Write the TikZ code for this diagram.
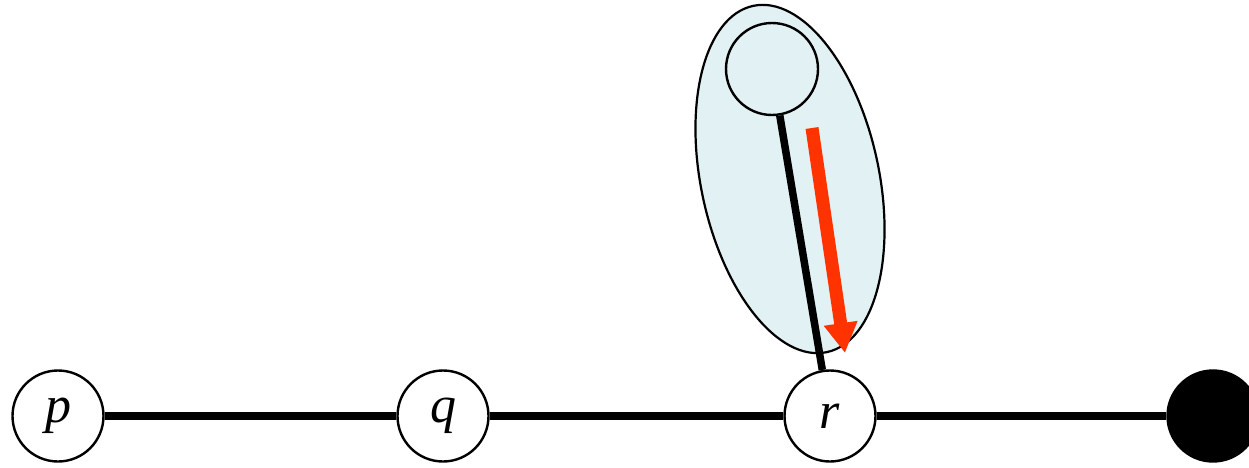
\documentclass[tikz,border=0pt]{standalone}
\usepackage{fontspec}
\setmainfont{Liberation Serif}
\usetikzlibrary{arrows.meta}
\definecolor{blobfill}{RGB}{226,241,243}
\definecolor{arrred}{RGB}{255,51,0}
\tikzset{
  vtx/.style={circle, draw=black, line width=2.4pt, fill=white, minimum size=91pt, inner sep=0pt,
    font=\fontsize{52}{52}\selectfont\itshape},
  hollowvtx/.style={circle, draw=black, line width=2.4pt, minimum size=92pt, inner sep=0pt},
  solidvtx/.style={circle, draw=black, fill=black, line width=2.4pt, minimum size=91pt, inner sep=0pt},
  edgeline/.style={line width=7.5pt, black},
  blob/.style={draw=black, line width=2.2pt, fill=blobfill},
  redarrow/.style={line width=13pt, arrred, -{Triangle[length=30pt,width=32pt]}}
}
\begin{document}
\begin{tikzpicture}[x=1pt,y=1pt]
\useasboundingbox (0,0) rectangle (1249,467);
\fill[white] (0,0) rectangle (1249,467);
% blob
\draw[blob, rotate around={12:(790,288)}] (790,288) ellipse [x radius=89, y radius=177];
% nodes
\node[hollowvtx] (t) at (772,398) {};
\node[vtx] (p) at (58,51) {p};
\node[vtx] (q) at (443,51) {q};
\node[vtx] (r) at (830,51) {r};
\node[solidvtx] (s) at (1213,51) {};
% edges
\draw[edgeline] (p) -- (q);
\draw[edgeline] (q) -- (r);
\draw[edgeline] (r) -- (s);
\draw[edgeline] (t) -- (r);
% red arrow
\coordinate (a0) at (812,339);
\coordinate (a1) at (845,114);
\draw[redarrow] (a0) -- (a1);
\end{tikzpicture}
\end{document}
